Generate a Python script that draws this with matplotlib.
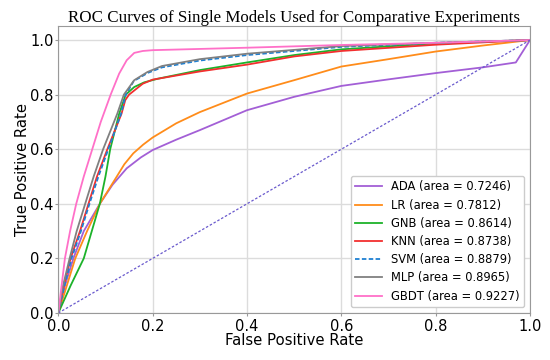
import matplotlib
matplotlib.use("Agg")
import matplotlib.pyplot as plt

# ROC points (fpr, tpr)
ada_fpr = [0, 0.014, 0.032, 0.054, 0.088, 0.115, 0.145, 0.175, 0.2, 0.25, 0.3, 0.4, 0.5, 0.6, 0.7, 0.8, 0.9, 0.97, 1.0]
ada_tpr = [0, 0.1, 0.2, 0.3, 0.4, 0.47, 0.53, 0.57, 0.597, 0.635, 0.67, 0.743, 0.792, 0.832, 0.856, 0.879, 0.9, 0.918, 1.0]

lr_fpr = [0, 0.018, 0.036, 0.061, 0.088, 0.124, 0.14, 0.159, 0.18, 0.2, 0.25, 0.3, 0.4, 0.5, 0.6, 0.7, 0.8, 0.9, 1.0]
lr_tpr = [0, 0.1, 0.2, 0.3, 0.4, 0.5, 0.545, 0.585, 0.617, 0.643, 0.695, 0.736, 0.804, 0.853, 0.903, 0.93, 0.958, 0.98, 1.0]

gnb_fpr = [0, 0.026, 0.054, 0.071, 0.088, 0.1, 0.11, 0.129, 0.143, 0.161, 0.182, 0.21, 0.3, 0.4, 0.5, 0.6, 0.8, 1.0]
gnb_tpr = [0, 0.1, 0.2, 0.3, 0.4, 0.5, 0.6, 0.73, 0.8, 0.828, 0.845, 0.858, 0.89, 0.918, 0.945, 0.966, 0.988, 1.0]

knn_fpr = [0, 0.012, 0.026, 0.046, 0.064, 0.082, 0.104, 0.134, 0.142, 0.15, 0.179, 0.2, 0.3, 0.4, 0.5, 0.6, 0.8, 1.0]
knn_tpr = [0, 0.1, 0.2, 0.3, 0.4, 0.5, 0.6, 0.73, 0.78, 0.8, 0.84, 0.855, 0.885, 0.91, 0.94, 0.96, 0.983, 1.0]

svm_fpr = [0, 0.013, 0.028, 0.048, 0.066, 0.085, 0.106, 0.133, 0.143, 0.16, 0.19, 0.22, 0.3, 0.4, 0.6, 0.8, 1.0]
svm_tpr = [0, 0.1, 0.2, 0.3, 0.4, 0.5, 0.6, 0.73, 0.8, 0.85, 0.88, 0.9, 0.925, 0.945, 0.975, 0.99, 1.0]

mlp_fpr = [0, 0.01, 0.024, 0.039, 0.057, 0.075, 0.095, 0.125, 0.139, 0.161, 0.189, 0.22, 0.3, 0.4, 0.6, 0.8, 1.0]
mlp_tpr = [0, 0.1, 0.2, 0.3, 0.4, 0.5, 0.6, 0.73, 0.8, 0.853, 0.883, 0.905, 0.93, 0.95, 0.978, 0.99, 1.0]

gbdt_fpr = [0, 0.007, 0.014, 0.025, 0.038, 0.054, 0.072, 0.09, 0.111, 0.129, 0.145, 0.161, 0.179, 0.2, 0.4, 0.6, 0.8, 1.0]
gbdt_tpr = [0, 0.1, 0.2, 0.3, 0.4, 0.5, 0.6, 0.7, 0.8, 0.877, 0.926, 0.953, 0.96, 0.963, 0.972, 0.982, 0.99, 1.0]

names = ["ADA", "LR", "GNB", "KNN", "SVM", "MLP", "GBDT"]
aucs = [0.7246, 0.7812, 0.8614, 0.8738, 0.8879, 0.8965, 0.9227]
colors = ["#a35fd6", "#ff8c1a", "#1cb22a", "#f22f2f", "#1f80d2", "#808080", "#ff70c8"]
styles = ["-", "-", "-", "-", (0, (2.5, 1.3)), "-", "-"]

curves = [(ada_fpr, ada_tpr), (lr_fpr, lr_tpr), (gnb_fpr, gnb_tpr), (knn_fpr, knn_tpr),
          (svm_fpr, svm_tpr), (mlp_fpr, mlp_tpr), (gbdt_fpr, gbdt_tpr)]

fig = plt.figure(figsize=(5.5, 3.6), dpi=100)
ax = fig.add_axes([0.106, 0.1306, 0.8576, 0.796])

for (fx, ty), n, a, c, s in zip(curves, names, aucs, colors, styles):
    ax.plot(fx, ty, color=c, linestyle=s, lw=1.3, label="%s (area = %.4f)" % (n, a))

ax.plot([0, 1], [0, 1], color="#6a5acd", linestyle=(0, (2, 1.5)), lw=0.9)

ax.set_xlim(0, 1.0)
ax.set_ylim(0, 1.05)
ax.set_xticks([0, 0.2, 0.4, 0.6, 0.8, 1.0])
ax.set_yticks([0, 0.2, 0.4, 0.6, 0.8, 1.0])
ax.grid(True, color="#dcdcdc", lw=1)
ax.set_axisbelow(True)
for sp in ax.spines.values():
    sp.set_color("#999999")
ax.tick_params(colors="#999999", labelcolor="black", labelsize=10.5, length=2)
ax.tick_params(axis="x", pad=2.6)
ax.tick_params(axis="y", pad=1.3)

ax.set_xlabel("False Positive Rate", fontsize=10.7, labelpad=-1)
ax.set_ylabel("True Positive Rate", fontsize=10.7, labelpad=0)
ax.set_title("ROC Curves of Single Models Used for Comparative Experiments",
             fontfamily="Liberation Serif", fontsize=12.2, pad=3)

ax.legend(loc="lower right", fontsize=8.3, handlelength=2.3, labelspacing=0.45,
          framealpha=1, edgecolor="#cccccc")

fig.savefig("out.png", dpi=100)
